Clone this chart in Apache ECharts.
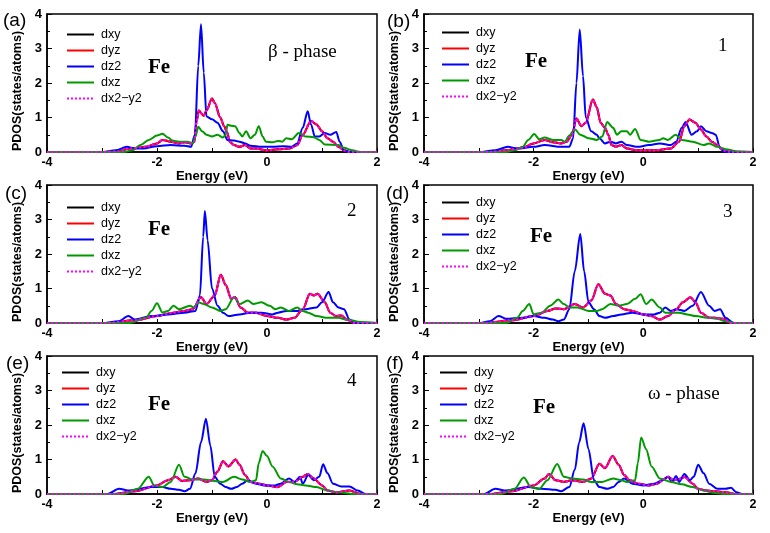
<!DOCTYPE html>
<html>
<head>
<meta charset="utf-8">
<script src="https://cdn.jsdelivr.net/npm/echarts@6/dist/echarts.min.js"></script>
<style>html,body{margin:0;padding:0;background:#fff}#c{width:770px;height:533px}</style>
</head>
<body>
<div id="c"></div>
<script>
// ---------- data (energy eV, PDOS states/atoms) ----------
const seriesNames = ['dxy', 'dyz', 'dz2', 'dxz', 'dx2\u2212y2'];
const panelLabels = ['(a)', '(b)', '(c)', '(d)', '(e)', '(f)'];
const panelTags = ['\u03b2 - phase', '1', '2', '3', '4', '\u03c9 - phase'];
const xTickLabels = [-4, -2, 0, 2];
const yTickLabels = [0, 1, 2, 3, 4];

// panel (a)  beta phase
const a_dxy = [[-4,0],[-3,0],[-2.7,0.02],[-2.5,0.1],[-2.2,0.15],[-2.0,0.25],[-1.9,0.35],[-1.75,0.3],[-1.6,0.25],[-1.5,0.28],[-1.38,0.25],[-1.32,0.3],[-1.28,0.9],[-1.24,1.2],[-1.15,1.05],[-1.1,1.2],[-1.0,1.55],[-0.95,1.42],[-0.85,1.0],[-0.78,0.75],[-0.72,0.55],[-0.68,0.3],[-0.6,0.2],[-0.5,0.15],[-0.4,0.2],[-0.3,0.1],[-0.2,0.1],[0,0.05],[0.2,0.08],[0.4,0.1],[0.55,0.2],[0.65,0.5],[0.8,0.9],[0.9,0.8],[1.0,0.6],[1.1,0.4],[1.2,0.3],[1.3,0.15],[1.4,0.05],[1.5,0],[2,0]];
const a_dz2 = [[-4,0],[-3,0],[-2.75,0.05],[-2.55,0.15],[-2.4,0.1],[-2.25,0.1],[-2.0,0.17],[-1.75,0.2],[-1.5,0.18],[-1.38,0.15],[-1.31,0.5],[-1.25,2.5],[-1.2,3.7],[-1.15,2.3],[-1.1,1.03],[-1.0,0.95],[-0.9,0.85],[-0.8,0.6],[-0.72,0.35],[-0.6,0.33],[-0.5,0.3],[-0.4,0.25],[-0.3,0.18],[-0.1,0.15],[0.1,0.15],[0.3,0.17],[0.45,0.15],[0.55,0.25],[0.65,0.7],[0.74,1.18],[0.8,0.8],[0.87,0.45],[0.95,0.45],[1.05,0.55],[1.15,0.5],[1.26,0.58],[1.32,0.3],[1.4,0.05],[1.5,0],[2,0]];
const a_dxz = [[-4,0],[-2.6,0],[-2.45,0.05],[-2.3,0.2],[-2.15,0.35],[-2.0,0.48],[-1.9,0.53],[-1.8,0.42],[-1.72,0.33],[-1.6,0.3],[-1.45,0.3],[-1.35,0.25],[-1.3,0.45],[-1.25,0.73],[-1.18,0.6],[-1.1,0.5],[-1.0,0.45],[-0.9,0.5],[-0.8,0.42],[-0.75,0.5],[-0.72,0.79],[-0.65,0.76],[-0.58,0.75],[-0.5,0.55],[-0.45,0.45],[-0.38,0.6],[-0.3,0.4],[-0.22,0.5],[-0.15,0.75],[-0.08,0.45],[-0.02,0.3],[0.1,0.28],[0.2,0.32],[0.28,0.3],[0.35,0.4],[0.45,0.37],[0.58,0.55],[0.7,0.45],[0.85,0.43],[0.95,0.35],[1.05,0.22],[1.3,0.2],[1.4,0.12],[1.55,0.05],[1.7,0],[2,0]];

// panel (b)  1
const b_dxy = [[-4,0],[-2.8,0],[-2.5,0.05],[-2.2,0.12],[-2.0,0.25],[-1.8,0.35],[-1.65,0.28],[-1.5,0.25],[-1.4,0.3],[-1.3,0.5],[-1.22,0.97],[-1.13,0.75],[-1.05,0.85],[-0.92,1.52],[-0.85,1.3],[-0.78,0.85],[-0.7,0.7],[-0.64,0.5],[-0.58,0.2],[-0.5,0.15],[-0.4,0.2],[-0.3,0.1],[-0.1,0.05],[0.2,0.05],[0.5,0.1],[0.65,0.3],[0.75,0.75],[0.84,0.94],[0.95,0.85],[1.05,0.65],[1.15,0.45],[1.25,0.3],[1.35,0.2],[1.45,0.05],[1.6,0],[2,0]];
const b_dz2 = [[-4,0],[-3,0],[-2.7,0.05],[-2.47,0.15],[-2.3,0.1],[-2.0,0.15],[-1.8,0.2],[-1.5,0.15],[-1.35,0.15],[-1.28,0.4],[-1.22,2.0],[-1.16,3.55],[-1.1,2.2],[-1.05,1.0],[-0.95,0.6],[-0.85,0.5],[-0.8,0.4],[-0.7,0.25],[-0.6,0.3],[-0.5,0.25],[-0.4,0.3],[-0.3,0.2],[-0.1,0.15],[0.1,0.2],[0.3,0.25],[0.5,0.2],[0.6,0.3],[0.7,0.7],[0.77,0.87],[0.88,0.5],[0.98,0.6],[1.05,0.75],[1.15,0.6],[1.25,0.55],[1.32,0.5],[1.4,0.1],[1.5,0],[2,0]];
const b_dxz = [[-4,0],[-2.5,0],[-2.35,0.05],[-2.2,0.15],[-2.1,0.35],[-1.99,0.52],[-1.9,0.37],[-1.8,0.42],[-1.65,0.35],[-1.5,0.35],[-1.43,0.3],[-1.35,0.48],[-1.25,0.66],[-1.15,0.5],[-1.0,0.4],[-0.85,0.35],[-0.75,0.45],[-0.66,0.87],[-0.55,0.7],[-0.48,0.5],[-0.4,0.6],[-0.3,0.6],[-0.24,0.5],[-0.15,0.67],[-0.05,0.35],[0.1,0.3],[0.3,0.35],[0.36,0.4],[0.45,0.35],[0.59,0.5],[0.7,0.35],[0.9,0.3],[1.1,0.2],[1.2,0.25],[1.35,0.15],[1.5,0.08],[1.7,0.02],[2,0]];

// panel (c)  2
const c_dxy = [[-4,0],[-2.9,0],[-2.4,0.08],[-2.0,0.2],[-1.7,0.3],[-1.5,0.35],[-1.35,0.4],[-1.2,0.75],[-1.1,0.55],[-0.95,0.8],[-0.84,1.4],[-0.75,1.1],[-0.65,0.7],[-0.58,0.75],[-0.48,0.45],[-0.35,0.3],[-0.2,0.3],[0,0.2],[0.2,0.15],[0.35,0.1],[0.5,0.15],[0.65,0.4],[0.78,0.85],[0.85,0.8],[0.92,0.85],[1.05,0.6],[1.15,0.3],[1.25,0.2],[1.35,0.22],[1.45,0.1],[1.6,0],[2,0]];
const c_dz2 = [[-4,0],[-3,0],[-2.7,0.05],[-2.52,0.2],[-2.4,0.1],[-2.1,0.2],[-1.8,0.25],[-1.5,0.3],[-1.3,0.35],[-1.22,0.8],[-1.16,2.5],[-1.13,3.25],[-1.08,2.4],[-1.0,1.0],[-0.9,0.5],[-0.8,0.3],[-0.7,0.2],[-0.5,0.25],[-0.3,0.3],[-0.1,0.3],[0.1,0.25],[0.2,0.3],[0.35,0.35],[0.55,0.35],[0.7,0.4],[0.9,0.45],[1.0,0.6],[1.12,0.9],[1.2,0.6],[1.3,0.45],[1.4,0.4],[1.5,0.1],[1.6,0],[2,0]];
const c_dxz = [[-4,0],[-2.5,0],[-2.2,0.15],[-2.1,0.35],[-2.0,0.57],[-1.9,0.3],[-1.8,0.35],[-1.7,0.5],[-1.6,0.4],[-1.4,0.5],[-1.33,0.45],[-1.25,0.6],[-1.15,0.55],[-1.0,0.45],[-0.85,0.35],[-0.75,0.4],[-0.6,0.75],[-0.5,0.55],[-0.35,0.65],[-0.25,0.55],[-0.1,0.6],[0.05,0.5],[0.15,0.4],[0.25,0.45],[0.4,0.35],[0.55,0.45],[0.65,0.35],[0.75,0.3],[0.9,0.2],[1.1,0.15],[1.3,0.15],[1.45,0.1],[1.7,0.03],[2,0]];

// panel (d)  3
const d_dxy = [[-4,0],[-2.9,0],[-2.4,0.08],[-2.0,0.2],[-1.75,0.35],[-1.6,0.42],[-1.45,0.4],[-1.25,0.55],[-1.1,0.45],[-0.95,0.65],[-0.82,1.12],[-0.7,0.85],[-0.6,0.8],[-0.5,0.55],[-0.35,0.4],[-0.2,0.35],[0,0.25],[0.15,0.2],[0.3,0.1],[0.45,0.2],[0.6,0.4],[0.72,0.6],[0.86,0.75],[0.95,0.6],[1.05,0.3],[1.2,0.15],[1.3,0.15],[1.45,0.12],[1.6,0],[2,0]];
const d_dz2 = [[-4,0],[-3,0],[-2.8,0.05],[-2.64,0.2],[-2.5,0.12],[-2.2,0.15],[-2.0,0.2],[-1.8,0.15],[-1.65,0.1],[-1.55,0.05],[-1.45,0.1],[-1.35,0.4],[-1.25,1.5],[-1.15,2.58],[-1.08,1.5],[-1.0,0.6],[-0.9,0.4],[-0.8,0.2],[-0.7,0.15],[-0.55,0.2],[-0.4,0.25],[-0.2,0.3],[0,0.25],[0.2,0.25],[0.3,0.3],[0.4,0.45],[0.5,0.35],[0.6,0.4],[0.75,0.35],[0.9,0.5],[1.05,0.9],[1.2,0.5],[1.3,0.35],[1.4,0.4],[1.5,0.15],[1.65,0],[2,0]];
const d_dxz = [[-4,0],[-2.5,0],[-2.3,0.15],[-2.2,0.35],[-2.08,0.55],[-2.0,0.25],[-1.85,0.3],[-1.7,0.5],[-1.55,0.68],[-1.45,0.55],[-1.35,0.45],[-1.2,0.45],[-1.0,0.35],[-0.85,0.35],[-0.75,0.4],[-0.6,0.55],[-0.45,0.5],[-0.3,0.55],[-0.15,0.7],[-0.05,0.83],[0.05,0.55],[0.15,0.68],[0.3,0.45],[0.4,0.3],[0.55,0.3],[0.65,0.3],[0.8,0.25],[0.95,0.2],[1.2,0.15],[1.35,0.12],[1.5,0.05],[1.7,0],[2,0]];

// panel (e)  4
const e_dxy = [[-4,0],[-2.8,0],[-2.4,0.08],[-2.0,0.25],[-1.8,0.4],[-1.66,0.5],[-1.55,0.38],[-1.4,0.4],[-1.25,0.45],[-1.1,0.35],[-1.0,0.4],[-0.9,0.65],[-0.8,0.95],[-0.7,0.8],[-0.57,1.0],[-0.5,0.85],[-0.4,0.55],[-0.3,0.35],[-0.15,0.3],[0,0.25],[0.2,0.2],[0.35,0.35],[0.5,0.35],[0.65,0.5],[0.74,0.58],[0.85,0.45],[1.0,0.25],[1.1,0.1],[1.25,0.05],[1.5,0.1],[1.7,0],[2,0]];
const e_dz2 = [[-4,0],[-2.9,0],[-2.69,0.15],[-2.5,0.1],[-2.1,0.2],[-1.9,0.2],[-1.75,0.15],[-1.6,0.12],[-1.5,0.08],[-1.4,0.15],[-1.3,0.6],[-1.2,1.5],[-1.11,2.18],[-1.03,1.4],[-0.95,0.5],[-0.85,0.3],[-0.75,0.2],[-0.65,0.15],[-0.55,0.2],[-0.45,0.3],[-0.35,0.4],[-0.2,0.3],[-0.05,0.25],[0.15,0.25],[0.25,0.3],[0.4,0.45],[0.5,0.35],[0.6,0.5],[0.65,0.3],[0.75,0.55],[0.85,0.4],[0.95,0.5],[1.02,0.86],[1.1,0.6],[1.2,0.3],[1.35,0.22],[1.5,0.22],[1.65,0.1],[1.8,0],[2,0]];
const e_dxz = [[-4,0],[-2.6,0],[-2.35,0.15],[-2.15,0.5],[-2.05,0.25],[-1.9,0.2],[-1.75,0.35],[-1.6,0.85],[-1.5,0.5],[-1.35,0.42],[-1.15,0.42],[-0.95,0.38],[-0.8,0.35],[-0.6,0.5],[-0.45,0.42],[-0.3,0.35],[-0.2,0.4],[-0.15,0.9],[-0.08,1.25],[0,1.1],[0.1,0.8],[0.25,0.45],[0.4,0.35],[0.55,0.28],[0.7,0.25],[0.9,0.2],[1.1,0.1],[1.3,0.05],[1.6,0],[2,0]];

// panel (f)  omega phase
const f_dxy = [[-4,0],[-2.8,0],[-2.4,0.08],[-2.0,0.25],[-1.8,0.45],[-1.72,0.58],[-1.6,0.4],[-1.45,0.35],[-1.3,0.4],[-1.1,0.35],[-0.95,0.45],[-0.8,0.88],[-0.7,0.75],[-0.56,1.1],[-0.45,0.85],[-0.35,0.55],[-0.25,0.4],[-0.1,0.3],[0.1,0.25],[0.25,0.3],[0.4,0.45],[0.45,0.5],[0.55,0.4],[0.7,0.45],[0.75,0.5],[0.9,0.3],[1.0,0.15],[1.15,0.1],[1.3,0.08],[1.5,0.05],[1.7,0],[2,0]];
const f_dz2 = [[-4,0],[-2.9,0],[-2.7,0.15],[-2.5,0.1],[-2.1,0.2],[-1.85,0.15],[-1.6,0.12],[-1.5,0.08],[-1.35,0.2],[-1.25,0.7],[-1.17,1.5],[-1.09,2.05],[-1.0,1.3],[-0.9,0.4],[-0.8,0.2],[-0.65,0.15],[-0.55,0.2],[-0.45,0.35],[-0.35,0.45],[-0.2,0.3],[0,0.25],[0.2,0.3],[0.35,0.4],[0.45,0.5],[0.52,0.35],[0.6,0.52],[0.65,0.35],[0.75,0.58],[0.85,0.4],[0.92,0.5],[1.0,0.85],[1.1,0.6],[1.2,0.3],[1.35,0.15],[1.5,0.15],[1.6,0.18],[1.7,0.05],[1.8,0],[2,0]];
const f_dxz = [[-4,0],[-2.6,0],[-2.35,0.15],[-2.18,0.48],[-2.05,0.2],[-1.9,0.15],[-1.75,0.4],[-1.57,0.87],[-1.45,0.5],[-1.3,0.45],[-1.1,0.42],[-0.95,0.35],[-0.75,0.35],[-0.55,0.45],[-0.4,0.4],[-0.3,0.35],[-0.15,0.4],[-0.1,0.9],[-0.04,1.64],[0.05,1.3],[0.15,0.8],[0.3,0.45],[0.5,0.35],[0.7,0.28],[0.9,0.2],[1.1,0.1],[1.3,0.03],[1.5,0],[2,0]];

// dxy, dyz and dx2-y2 coincide in the figure
const panelData = [
  {dxy: a_dxy, dyz: a_dxy, dz2: a_dz2, dxz: a_dxz, dx2y2: a_dxy},
  {dxy: b_dxy, dyz: b_dxy, dz2: b_dz2, dxz: b_dxz, dx2y2: b_dxy},
  {dxy: c_dxy, dyz: c_dxy, dz2: c_dz2, dxz: c_dxz, dx2y2: c_dxy},
  {dxy: d_dxy, dyz: d_dxy, dz2: d_dz2, dxz: d_dxz, dx2y2: d_dxy},
  {dxy: e_dxy, dyz: e_dxy, dz2: e_dz2, dxz: e_dxz, dx2y2: e_dxy},
  {dxy: f_dxy, dyz: f_dxy, dz2: f_dz2, dxz: f_dxz, dx2y2: f_dxy}
];

// ---------- layout / styles ----------
const grids = [
  {left: 47, top: 14, width: 330, height: 138},
  {left: 424, top: 14, width: 329, height: 138},
  {left: 47, top: 185, width: 330, height: 138},
  {left: 424, top: 185, width: 329, height: 138},
  {left: 47, top: 356, width: 330, height: 138},
  {left: 424, top: 356, width: 329, height: 138}
];
const legendPos = [[66, 28], [441, 26], [66, 201], [441, 196], [61, 366], [439, 366]];
const labelPos = [[3, 22], [387, 23], [5, 195], [386, 195], [6, 365], [386, 365]];
const fePos = [[148, 68], [525, 62], [148, 230], [530, 237], [148, 405], [533, 408]];
const tagPos = [[268, 53], [718, 47], [347, 212], [723, 213], [347, 382], [648, 395]];

const styles = [
  {color: '#000000', type: 'solid', width: 2},
  {color: '#ff0000', type: 'solid', width: 2},
  {color: '#0000ff', type: 'solid', width: 2},
  {color: '#009a00', type: 'solid', width: 2},
  {color: '#ff00ff', type: 'dotted', width: 2.2}
];
const keys = ['dxy', 'dyz', 'dz2', 'dxz', 'dx2y2'];
const SANS = '"Liberation Sans", Arial, sans-serif';
const SERIF = '"Liberation Serif", "Times New Roman", serif';

const option = {
  backgroundColor: '#fff',
  animation: false,
  grid: [], xAxis: [], yAxis: [], series: [], legend: [], graphic: []
};

grids.forEach((g, i) => {
  option.grid.push({left: g.left, top: g.top, width: g.width, height: g.height,
    show: true, borderColor: '#000', borderWidth: 1.5, backgroundColor: '#fff'});
  option.xAxis.push({
    gridIndex: i, type: 'value', min: -4, max: 2, interval: 1,
    name: 'Energy (eV)', nameLocation: 'middle', nameGap: 12,
    nameTextStyle: {fontFamily: SANS, fontWeight: 'bold', fontSize: 13, color: '#000'},
    axisLine: {show: true, onZero: false, lineStyle: {color: '#000', width: 1.5}},
    axisTick: {show: true, inside: true, length: 4, lineStyle: {color: '#000', width: 1}},
    axisLabel: {margin: 4, fontFamily: SANS, fontWeight: 'bold', fontSize: 12.5, color: '#000',
      formatter: v => (xTickLabels.indexOf(v) >= 0 ? String(v) : '')},
    splitLine: {show: false}
  });
  option.yAxis.push({
    gridIndex: i, type: 'value', min: 0, max: 4, interval: 1,
    name: 'PDOS(states/atoms)', nameLocation: 'middle', nameGap: 23,
    nameTextStyle: {fontFamily: SANS, fontWeight: 'bold', fontSize: 12.5, color: '#000', padding: [0, 16, 0, 0]},
    axisLine: {show: true, onZero: false, lineStyle: {color: '#000', width: 1.5}},
    axisTick: {show: true, inside: true, length: 5, lineStyle: {color: '#000', width: 1}},
    minorTick: {show: true, splitNumber: 2, length: 3, lineStyle: {color: '#000', width: 1}},
    axisLabel: {margin: 5, fontFamily: SANS, fontWeight: 'bold', fontSize: 13, color: '#000',
      formatter: v => (yTickLabels.indexOf(v) >= 0 ? String(v) : '')},
    splitLine: {show: false}
  });
  keys.forEach((k, j) => {
    option.series.push({
      name: seriesNames[j], type: 'line', xAxisIndex: i, yAxisIndex: i,
      data: panelData[i][k], showSymbol: false, symbol: 'none',
      smooth: 0.3, smoothMonotone: 'x',
      lineStyle: {color: styles[j].color, width: styles[j].width, type: styles[j].type},
      itemStyle: {color: styles[j].color},
      z: 2 + j
    });
  });
  option.legend.push({
    left: legendPos[i][0], top: legendPos[i][1], orient: 'vertical',
    itemWidth: 27, itemHeight: 12, itemGap: 3, selectedMode: false,
    data: seriesNames,
    itemStyle: {opacity: 0, borderWidth: 0},
    textStyle: {fontFamily: SANS, fontSize: 12.5, color: '#000', padding: [0, 0, 0, 2]},
    padding: 0
  });
  option.graphic.push({type: 'text', left: labelPos[i][0], top: labelPos[i][1] - 11,
    style: {text: panelLabels[i], font: '19px ' + SANS, fill: '#000'}});
  option.graphic.push({type: 'text', left: fePos[i][0], top: fePos[i][1] - 11,
    style: {text: 'Fe', font: 'bold 21px ' + SERIF, fill: '#000'}});
  option.graphic.push({type: 'text', left: tagPos[i][0], top: tagPos[i][1] - 10,
    style: {text: panelTags[i], font: '19px ' + SERIF, fill: '#000'}});
});

const chart = echarts.init(document.getElementById('c'), null, {renderer: 'canvas'});
chart.setOption(option);
</script>
</body>
</html>
